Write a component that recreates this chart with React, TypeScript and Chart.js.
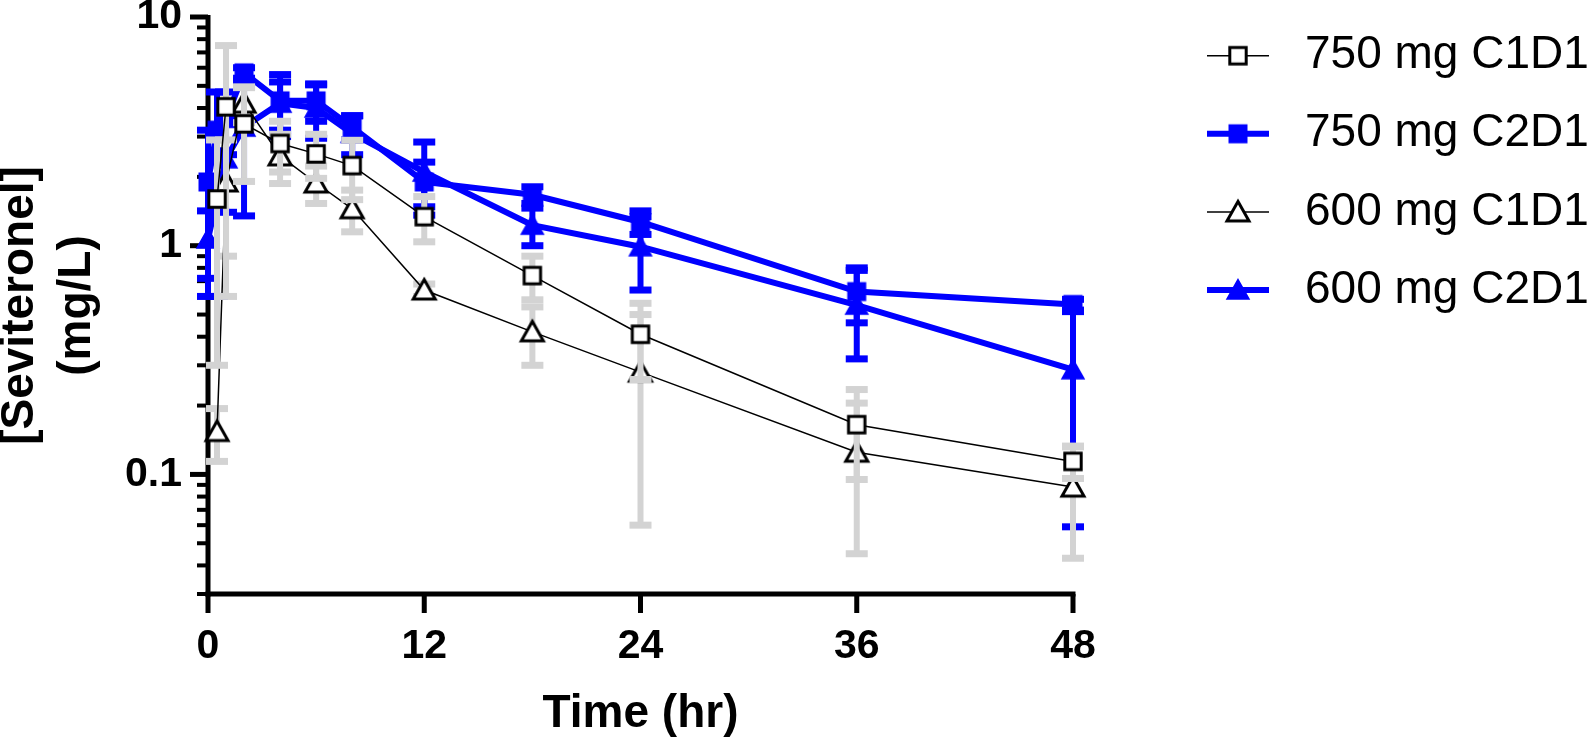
import React, { useEffect, useRef } from 'react';
import { Chart, registerables } from 'chart.js';

Chart.register(...registerables);

// ---------------- data ----------------
const timeHr = [0, 0.5, 1, 2, 4, 6, 8, 12, 18, 24, 36, 48];

const seriesLabels = ['750 mg C1D1', '750 mg C2D1', '600 mg C1D1', '600 mg C2D1'];

const mean750C1D1 = [null, 1.6, 4.05, 3.41, 2.8, 2.52, 2.24, 1.34, 0.74, 0.41, 0.165, 0.114];
const sd750C1D1 = [null, 1.3, 3.45, 1.5, 0.7, 0.55, 0.65, 0.3, 0.16, 0.15, 0.07, 0.018];

const mean750C2D1 = [1.9, 3.2, 3.6, 5.7, 4.3, 4.3, 3.3, 1.9, 1.67, 1.27, 0.63, 0.553];
const sd750C2D1 = [1.3, 1.5, 1.1, 0.3, 1.3, 0.8, 0.4, 0.42, 0.14, 0.15, 0.17, 0.03];

const mean600C1D1 = [null, 0.154, 1.9, 4.2, 2.47, 1.88, 1.45, 0.64, 0.42, 0.28, 0.125, 0.088];
const sd600C1D1 = [null, 0.04, 1.0, 0.75, 0.6, 0.35, 0.3, 0.04, 0.12, 0.22, 0.08, 0.045];

const mean600C2D1 = [1.07, 1.6, 2.4, 3.3, 4.2, 4.0, 3.1, 2.1, 1.23, 0.99, 0.55, 0.287];
const sd600C2D1 = [0.35, 1.0, 1.0, 1.95, 1.0, 1.05, 0.6, 0.74, 0.23, 0.35, 0.23, 0.228];

const xTickValues = [0, 12, 24, 36, 48];
const yTickValues = [0.1, 1, 10];
const xAxisTitle = 'Time (hr)';
const yAxisTitle = ['[Seviteronel]', '(mg/L)'];

// ---------------- styling ----------------
const FONT = '"Liberation Sans", Arial, Helvetica, sans-serif';
const BLUE = '#0000ff';
const GREY = '#d3d3d3';
const BLACK = '#000000';
const Y_MIN = 0.03;
const Y_MAX = 10;

function makeMarker(shape: 'square' | 'triangle', filled: boolean, color: string) {
  const c = document.createElement('canvas');
  const S = 30;
  c.width = S;
  c.height = S;
  const g = c.getContext('2d')!;
  const cx = S / 2;
  const cy = S / 2;
  g.lineJoin = 'miter';
  g.beginPath();
  if (shape === 'square') {
    const h = filled ? 9.5 : 8.2;
    g.rect(cx - h, cy - h, 2 * h, 2 * h);
  } else {
    g.moveTo(cx, cy - 10.5);
    g.lineTo(cx + 11, cy + 9);
    g.lineTo(cx - 11, cy + 9);
    g.closePath();
  }
  if (filled) {
    g.fillStyle = color;
    g.fill();
    if (shape === 'triangle') {
      g.strokeStyle = color;
      g.lineWidth = 1.5;
      g.stroke();
    }
  } else {
    g.fillStyle = '#ffffff';
    g.fill();
    g.strokeStyle = color;
    g.lineWidth = 3;
    g.stroke();
  }
  return c;
}

const errorBarPlugin = {
  id: 'errorBars',
  beforeDatasetDraw(chart: any, args: any) {
    const ds: any = chart.data.datasets[args.index];
    if (!ds.errSd) return;
    const meta = args.meta;
    const ys = chart.scales.y;
    const ctx = chart.ctx;
    const { top, bottom } = chart.chartArea;
    const barW = 6;
    const capW = 22;
    const capT = 7;
    ctx.save();
    ctx.beginPath();
    ctx.rect(0, top - 4, chart.width, bottom - top + 4);
    ctx.clip();
    ctx.fillStyle = ds.errColor;
    meta.data.forEach((pt: any, i: number) => {
      const m = ds.errMean[i];
      const s = ds.errSd[i];
      if (m == null || s == null) return;
      const x = pt.x;
      const hi = m + s;
      const lo = m - s;
      const yHi = ys.getPixelForValue(hi);
      const yLo = lo > 0 ? ys.getPixelForValue(lo) : bottom + 20;
      ctx.fillRect(x - barW / 2, yHi, barW, yLo - yHi);
      ctx.fillRect(x - capW / 2, yHi - capT / 2, capW, capT);
      if (lo > 0) ctx.fillRect(x - capW / 2, yLo - capT / 2, capW, capT);
    });
    ctx.restore();
  },
};

const axisPlugin = {
  id: 'axesDraw',
  beforeDatasetsDraw(chart: any) {
    const { ctx, chartArea } = chart;
    const { left, right, top, bottom } = chartArea;
    const ys = chart.scales.y;
    const xs = chart.scales.x;
    const aw = 5;
    ctx.save();
    ctx.fillStyle = BLACK;
    // axis lines
    ctx.fillRect(left - aw / 2, top - 2, aw, bottom - top + 2 + aw / 2);
    ctx.fillRect(left - aw / 2, bottom - aw / 2, right - left + aw, aw);
    // y ticks (log: major at decades, minor between)
    for (let e = -2; e <= 1; e++) {
      for (let m = 1; m <= 9; m++) {
        const v = m * Math.pow(10, e);
        if (v < Y_MIN * 0.999 || v > Y_MAX * 1.001) continue;
        const py = ys.getPixelForValue(v);
        if (m === 1) ctx.fillRect(left - 18, py - 2.5, 18, 5);
        else ctx.fillRect(left - 11, py - 2, 11, 4);
      }
    }
    // x ticks
    xTickValues.forEach((v) => {
      const px = xs.getPixelForValue(v);
      ctx.fillRect(px - aw / 2, bottom, aw, 19);
    });
    ctx.restore();
  },
};

const legendPlugin = {
  id: 'customLegend',
  afterDraw(chart: any) {
    const ctx = chart.ctx;
    const right = chart.chartArea.right;
    const lineX0 = right + 134;
    const lineX1 = right + 196;
    const markX = right + 165;
    const textX = right + 232;
    ctx.save();
    chart.data.datasets.forEach((d: any, i: number) => {
      const y = 55.7 + i * 78.1;
      ctx.strokeStyle = d.borderColor;
      ctx.lineWidth = d.borderWidth;
      ctx.beginPath();
      ctx.moveTo(lineX0, y);
      ctx.lineTo(lineX1, y);
      ctx.stroke();
      const img = d.pointStyle;
      ctx.drawImage(img, markX - img.width / 2, y - img.height / 2);
      ctx.fillStyle = BLACK;
      ctx.font = `46px ${FONT}`;
      ctx.textBaseline = 'middle';
      ctx.textAlign = 'left';
      ctx.fillText(d.label, textX, y);
    });
    ctx.restore();
  },
};

export default function App() {
  const canvasRef = useRef<HTMLCanvasElement | null>(null);

  useEffect(() => {
    const canvas = canvasRef.current;
    if (!canvas) return;

    const mkSet = (
      label: string,
      mean: (number | null)[],
      sd: (number | null)[],
      color: string,
      lineW: number,
      marker: HTMLCanvasElement,
      errColor: string,
      order: number
    ) => ({
      label,
      data: timeHr.map((t, i) => ({ x: t, y: mean[i] })),
      errMean: mean,
      errSd: sd,
      errColor,
      borderColor: color,
      backgroundColor: color,
      borderWidth: lineW,
      pointStyle: marker,
      pointRadius: 10,
      pointHoverRadius: 10,
      tension: 0,
      fill: false,
      order,
      clip: false,
    });

    const datasets: any[] = [
      mkSet(seriesLabels[0], mean750C1D1, sd750C1D1, BLACK, 1.5, makeMarker('square', false, BLACK), GREY, 0),
      mkSet(seriesLabels[1], mean750C2D1, sd750C2D1, BLUE, 6, makeMarker('square', true, BLUE), BLUE, 3),
      mkSet(seriesLabels[2], mean600C1D1, sd600C1D1, BLACK, 1.5, makeMarker('triangle', false, BLACK), GREY, 1),
      mkSet(seriesLabels[3], mean600C2D1, sd600C2D1, BLUE, 6, makeMarker('triangle', true, BLUE), BLUE, 2),
    ];

    const tickFont = { family: FONT, size: 41, weight: 'bold' as const, lineHeight: 1.2 };

    const chart = new Chart(canvas, {
      type: 'line',
      data: { datasets },
      plugins: [errorBarPlugin, axisPlugin, legendPlugin],
      options: {
        animation: false,
        responsive: false,
        devicePixelRatio: 1,
        layout: { padding: { left: 0, top: 17, right: 516, bottom: 0 } },
        plugins: { legend: { display: false }, tooltip: { enabled: false } },
        events: [],
        scales: {
          x: {
            type: 'linear',
            position: 'bottom',
            min: 0,
            max: 48,
            afterBuildTicks: (s: any) => {
              s.ticks = xTickValues.map((v) => ({ value: v }));
            },
            afterFit: (s: any) => {
              s.height = 150;
              s.paddingLeft = 0;
              s.paddingRight = 0;
            },
            grid: {
              display: true,
              drawOnChartArea: false,
              drawTicks: true,
              tickLength: 19,
              color: 'rgba(0,0,0,0)',
              tickColor: 'rgba(0,0,0,0)',
            },
            border: { display: false },
            ticks: {
              color: BLACK,
              font: tickFont,
              padding: 9,
              maxRotation: 0,
              autoSkip: false,
              callback: (v: any) => String(v),
            },
            title: {
              display: true,
              text: xAxisTitle,
              color: BLACK,
              font: { family: FONT, size: 46, weight: 'bold', lineHeight: 1.2 },
              padding: { top: 0, bottom: 2 },
            },
          },
          y: {
            type: 'logarithmic',
            position: 'left',
            min: Y_MIN,
            max: Y_MAX,
            afterBuildTicks: (s: any) => {
              s.ticks = yTickValues.map((v) => ({ value: v }));
            },
            afterFit: (s: any) => {
              s.width = 208;
              s.paddingTop = 0;
              s.paddingBottom = 0;
            },
            grid: {
              display: true,
              drawOnChartArea: false,
              drawTicks: true,
              tickLength: 17,
              color: 'rgba(0,0,0,0)',
              tickColor: 'rgba(0,0,0,0)',
            },
            border: { display: false },
            ticks: {
              color: BLACK,
              font: tickFont,
              padding: 9,
              autoSkip: false,
              callback: (v: any) => String(v),
            },
            title: {
              display: true,
              text: yAxisTitle,
              color: BLACK,
              font: { family: FONT, size: 46, weight: 'bold', lineHeight: 1.24 },
              padding: { top: -8, bottom: 0 },
            },
          },
        },
      } as any,
    });

    return () => {
      chart.destroy();
    };
  }, []);

  return (
    <div style={{ position: 'fixed', left: 0, top: 0, width: 1589, height: 744, background: '#fff' }}>
      <canvas ref={canvasRef} width={1589} height={744} style={{ display: 'block', width: 1589, height: 744 }} />
    </div>
  );
}
